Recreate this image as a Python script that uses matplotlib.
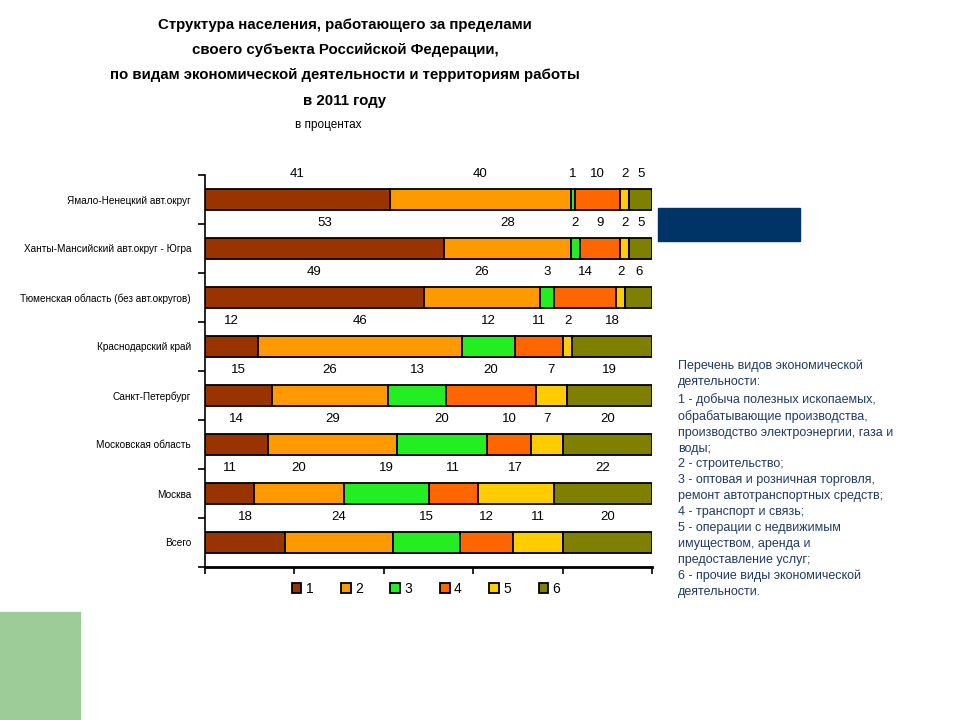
import numpy as np
import matplotlib
matplotlib.use("Agg")
import matplotlib.pyplot as plt
from matplotlib import font_manager
from matplotlib.patches import Rectangle


def pick_font(names):
    for n in names:
        try:
            font_manager.findfont(n, fallback_to_default=False)
            return n
        except Exception:
            pass
    return "DejaVu Sans"


narrow = pick_font(["Liberation Sans Narrow", "Liberation Sans", "DejaVu Sans"])
regular = pick_font(["Liberation Sans", "DejaVu Sans"])
is_narrow = narrow == "Liberation Sans Narrow"

regions = [
    "Ямало-Ненецкий авт.округ",
    "Ханты-Мансийский авт.округ - Югра",
    "Тюменская область (без авт.округов)",
    "Краснодарский край",
    "Санкт-Петербург",
    "Московская область",
    "Москва",
    "Всего",
]
sectors = ["1", "2", "3", "4", "5", "6"]
values = np.array([
    [41, 40, 1, 10, 2, 5],
    [53, 28, 2, 9, 2, 5],
    [49, 26, 3, 14, 2, 6],
    [12, 46, 12, 11, 2, 18],
    [15, 26, 13, 20, 7, 19],
    [14, 29, 20, 10, 7, 20],
    [11, 20, 19, 11, 17, 22],
    [18, 24, 15, 12, 11, 20],
])
colors = ["#993300", "#ff9900", "#22ee22", "#ff6600", "#ffcc00", "#808000"]

title_lines = [
    "Структура населения, работающего за пределами",
    "своего субъекта Российской Федерации,",
    "по видам экономической деятельности и территориям работы",
    "в 2011 году",
]
note = ("Перечень видов экономической\nдеятельности:\n"
        "1 - добыча полезных ископаемых,\nобрабатывающие производства,\n"
        "производство электроэнергии, газа и\nводы;\n"
        "2 - строительство;\n"
        "3 - оптовая и розничная торговля,\nремонт автотранспортных средств;\n"
        "4 - транспорт и связь;\n"
        "5 - операции с недвижимым\nимуществом, аренда и\nпредоставление услуг;\n"
        "6 - прочие виды экономической\nдеятельности.")

shares = values / values.sum(axis=1, keepdims=True) * 100

# sizes tuned for the narrow face, smaller if only the regular width exists
title_size = 13 if is_narrow else 10.8
cat_size = 8 if is_narrow else 7.2
val_size = 10 if is_narrow else 9.5

fig = plt.figure(figsize=(9.6, 7.2), dpi=100)
ax = fig.add_axes([205 / 960, 1 - 567 / 720, 447 / 960, (567 - 175) / 720])

y = np.arange(len(regions))
left = np.zeros(len(regions))
handles = []
for j, s in enumerate(sectors):
    b = ax.barh(y, shares[:, j], left=left, height=0.43, color=colors[j],
                edgecolor="black", linewidth=1.3, label=s)
    handles.append(b)
    for i in range(len(regions)):
        ax.text(left[i] + shares[i, j] / 2, y[i] - 0.52, str(values[i, j]),
                ha="center", va="center", fontsize=val_size, family=narrow)
    left += shares[:, j]

ax.set_xlim(0, 100)
ax.set_ylim(len(regions) - 0.5, -0.5)
ax.set_xticks(np.arange(0, 101, 20))
ax.set_xticklabels([])
ax.set_yticks(np.arange(-0.5, len(regions), 1))
ax.set_yticklabels([])
ax.set_yticks(y, minor=True)
ax.set_yticklabels(regions, minor=True, fontsize=cat_size, family=narrow)
ax.tick_params(axis="y", which="minor", length=0, pad=10)
ax.tick_params(axis="both", which="major", length=5, width=1.2, direction="out")
for side in ["top", "right"]:
    ax.spines[side].set_visible(False)
ax.spines["left"].set_linewidth(1.2)
ax.spines["bottom"].set_linewidth(2)

fig.legend(handles=handles, labels=sectors, loc="center", ncol=6,
           bbox_to_anchor=(426 / 960, 1 - 589 / 720), frameon=False,
           handlelength=0.7, handleheight=0.7, handletextpad=0.3,
           columnspacing=2.0, prop={"family": narrow, "size": 10})

ty = [25, 50, 75, 101]
for line, yy in zip(title_lines, ty):
    fig.text(345 / 960, 1 - yy / 720, line, ha="center", va="center",
             fontsize=title_size, fontweight="bold", family=narrow)
fig.text(328 / 960, 1 - 125 / 720, "в процентах", ha="center", va="center",
         fontsize=8.5, family=narrow)

fig.text(678 / 960, 1 - 360 / 720, note, ha="left", va="top", fontsize=9,
         family=regular, color="#1f3a68", linespacing=1.43)

fig.patches.append(Rectangle((658 / 960, 1 - 241 / 720), 142 / 960, 33 / 720,
                             transform=fig.transFigure, color="#003366"))
fig.patches.append(Rectangle((0, 0), 80 / 960, 108 / 720,
                             transform=fig.transFigure, color="#9dcc98"))

fig.savefig("out.png", dpi=100)
